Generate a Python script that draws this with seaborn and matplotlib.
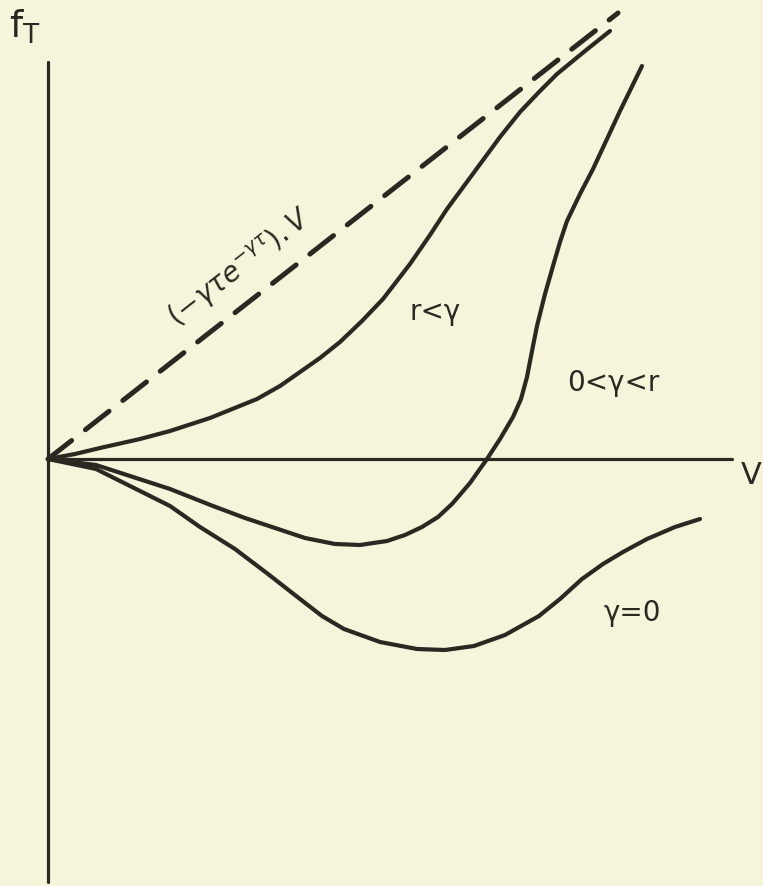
import numpy as np
import pandas as pd
import matplotlib
matplotlib.use("Agg")
import matplotlib.pyplot as plt
import seaborn as sns

# values (origin of the V / f_T axes at 0, 0)
v_upper = [0, 27, 52, 92, 122, 162, 209, 232, 252, 272, 292, 314, 335, 362,
           382, 399, 427, 452, 472, 492, 509, 537, 562]
f_upper = [0, 5, 11, 20, 28, 41, 60, 73, 87, 101, 117, 138, 160, 195,
           224, 250, 288, 322, 347, 368, 385, 408, 428]

v_middle = [0, 48, 82, 122, 165, 197, 230, 257, 287, 312, 339, 357, 374, 390,
            404, 422, 439, 452, 465, 473, 479, 484, 489, 497, 505, 512, 519,
            532, 545, 559, 572, 594]
f_middle = [0, -6, -17, -30, -47, -59, -70, -79, -85, -86, -82, -76, -68, -58,
            -45, -24, 0, 20, 42, 60, 82, 108, 133, 165, 193, 217, 238,
            265, 290, 320, 348, 393]

v_lower = [0, 48, 82, 122, 152, 187, 220, 252, 274, 296, 332, 369, 397, 426,
           457, 491, 512, 534, 555, 575, 599, 627, 652]
f_lower = [0, -10, -27, -47, -68, -90, -115, -140, -157, -170, -183, -190, -191, -187,
           -176, -157, -140, -120, -105, -93, -80, -68, -60]

v_dashed = [0, 570]
f_dashed = [0, 446]

curve_labels = ["r<γ", "0<γ<r", "γ=0"]

ink = "#2a2820"
paper = "#f7f4dc"

sns.set_theme(style="white")
plt.rcParams["font.family"] = ["DejaVu Sans"]
plt.rcParams["mathtext.fontset"] = "dejavusans"

fig = plt.figure(figsize=(7.63, 8.87), dpi=100, facecolor=paper)
ax = fig.add_axes([0, 0, 1, 1])
ax.set_facecolor(paper)

curves = pd.concat([
    pd.DataFrame({"V": v_upper, "fT": f_upper, "case": curve_labels[0]}),
    pd.DataFrame({"V": v_middle, "fT": f_middle, "case": curve_labels[1]}),
    pd.DataFrame({"V": v_lower, "fT": f_lower, "case": curve_labels[2]}),
])

for name, grp in curves.groupby("case", sort=False):
    sns.lineplot(data=grp, x="V", y="fT", sort=False, color=ink, lw=3.0,
                 solid_capstyle="round", solid_joinstyle="round", ax=ax)

sns.lineplot(x=v_dashed, y=f_dashed, sort=False, color=ink, lw=3.6,
             dashes=False, ax=ax, linestyle=(0, (6, 3.5)),
             dash_capstyle="round")

ax.set_xlim(-48, 715)
ax.set_ylim(-427, 460)
ax.set_aspect("equal")

# axes drawn through the origin
for side in ["top", "right"]:
    ax.spines[side].set_visible(False)
ax.spines["left"].set_position(("data", 0))
ax.spines["bottom"].set_position(("data", 0))
ax.spines["left"].set_bounds(-423, 397)
ax.spines["bottom"].set_bounds(0, 684)
for side in ["left", "bottom"]:
    ax.spines[side].set_color(ink)
    ax.spines[side].set_linewidth(2.3)
    ax.spines[side].set_capstyle("round")
ax.set_xticks([])
ax.set_yticks([])
ax.set_xlabel("")
ax.set_ylabel("")

ax.text(-23, 433, r"$\mathregular{f_T}$", fontsize=27, color=ink, ha="center", va="center")
ax.text(703, -16, "V", fontsize=22, color=ink, ha="center", va="center")
ax.text(387, 148, curve_labels[0], fontsize=20, color=ink, ha="center", va="center")
ax.text(565, 77, curve_labels[1], fontsize=20, color=ink, ha="center", va="center")
ax.text(584, -153, curve_labels[2], fontsize=20, color=ink, ha="center", va="center")
ax.text(192, 192, r"$(-\gamma\tau e^{-\gamma\tau}).V$", fontsize=20, color=ink,
        ha="center", va="center", rotation=38, rotation_mode="anchor")

fig.savefig("out.png", dpi=100, facecolor=paper)
